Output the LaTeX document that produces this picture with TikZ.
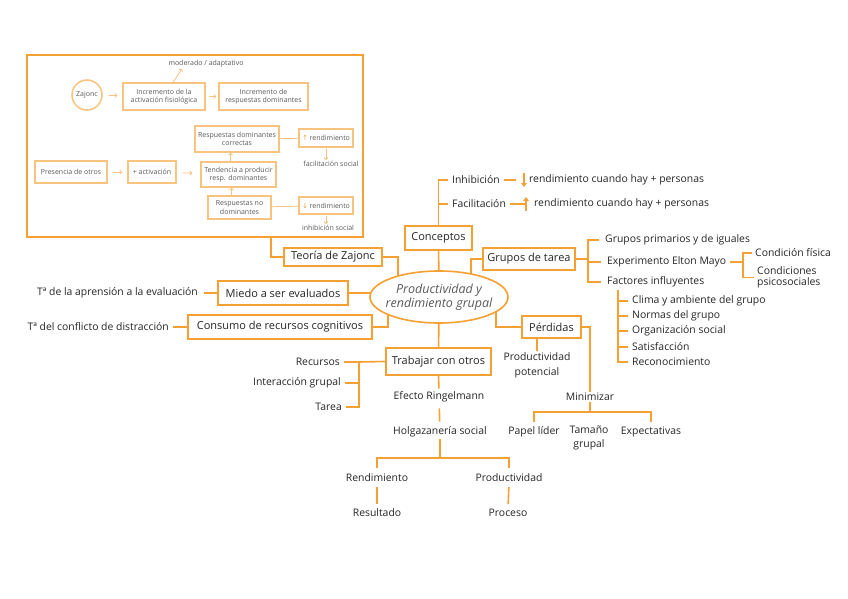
\documentclass[tikz,border=0pt]{standalone}
\usepackage{fontspec}
\setmainfont{Open Sans}
\newfontfamily\simbolos{DejaVu Sans}
\usetikzlibrary{arrows.meta,shapes.geometric,backgrounds,calc}

\definecolor{naranja}{HTML}{F5A033}
\definecolor{naranjaclaro}{HTML}{F8C37E}
\definecolor{tinta}{HTML}{262626}
\definecolor{tintaclara}{HTML}{5A5A5A}

\tikzset{
  caja/.style={draw=naranja, line width=1.6pt, fill=white, inner sep=0pt, text=tinta, font=\fontsize{11}{12}\selectfont},
  hoja/.style={inner sep=1pt, text=tinta, font=\fontsize{10.4}{12}\selectfont, align=left},
  linea/.style={draw=naranja, line width=1.6pt},
  cajita/.style={draw=naranjaclaro, line width=1.2pt, fill=white, inner sep=0pt, align=center, text=tintaclara, font=\fontsize{7}{8.5}\selectfont},
  notita/.style={inner sep=1pt, text=tintaclara, font=\fontsize{7}{8.5}\selectfont},
  lineita/.style={draw=naranjaclaro, line width=0.8pt},
  flechita/.style={lineita, -{Straight Barb[length=2pt,width=4pt]}},
}

\begin{document}
\begin{tikzpicture}[x=1pt, y=-1pt]
    \useasboundingbox (0,0) rectangle (848,599);

    % recuadro de la teoria de Zajonc
    \node[draw=naranja, line width=1.6pt, minimum width=336pt, minimum height=182pt, inner sep=0pt] (marco) at (195,146) {};
    \node[cajita, circle, line width=1.5pt, minimum size=30pt] (zajonc) at (87,95) {Zajonc};
    \node[cajita, minimum width=82pt, minimum height=27pt] (incr1) at (164,96.5) {Incremento de la\\activación fisiológica};
    \node[cajita, minimum width=89pt, minimum height=27pt] (incr2) at (263.5,96.5) {Incremento de\\respuestas dominantes};
    \node[notita] (moderado) at (206,64) {moderado / adaptativo};
    \node[cajita, minimum width=84pt, minimum height=26pt] (correctas) at (237,139) {Respuestas dominantes\\correctas};
    \node[cajita, minimum width=54pt, minimum height=18pt] (rendUp) at (326,138) {\textcolor{naranja}{\simbolos ↑} rendimiento};
    \node[notita] (facSocial) at (331,164) {facilitación social};
    \node[cajita, minimum width=72pt, minimum height=22pt] (presencia) at (71,172) {Presencia de otros};
    \node[cajita, minimum width=48pt, minimum height=22pt] (activacion) at (152,172) {+ activación};
    \node[cajita, minimum width=75pt, minimum height=25pt] (tendencia) at (238.5,174.5) {Tendencia a producir\\resp. dominantes};
    \node[cajita, minimum width=63pt, minimum height=23pt] (noDom) at (239.5,207.5) {Respuestas no\\dominantes};
    \node[cajita, minimum width=54pt, minimum height=17pt] (rendDown) at (326,205.5) {\textcolor{naranja}{\simbolos ↓} rendimiento};
    \node[notita] (inhSocial) at (328,228) {inhibición social};

    \draw[flechita, shorten <=6pt, shorten >=5pt] (zajonc) -- (incr1);
    \draw[flechita] ([xshift=9pt]incr1.north) -- ([xshift=-24pt]moderado.south);
    \draw[flechita, shorten <=3pt, shorten >=2pt] (incr1) -- (incr2);
    \draw[flechita, shorten <=5pt, shorten >=5pt] (presencia) -- (activacion);
    \draw[flechita, shorten <=6pt, shorten >=8pt] (activacion) -- (tendencia);
    \draw[flechita] ([xshift=-8pt]tendencia.north) -- ([xshift=-8pt]tendencia.north |- correctas.south);
    \draw[flechita] ([xshift=-8pt]noDom.north) -- ([xshift=-8pt]noDom.north |- tendencia.south);
    \draw[lineita] (correctas) -- (rendUp);
    \draw[lineita] (noDom) -- (rendDown);
    \draw[flechita, shorten <=1pt] (rendUp.south) -- (rendUp.south |- facSocial.north);
    \draw[flechita, shorten <=1pt] (rendDown.south) -- (rendDown.south |- inhSocial.north);

    % nodo central
    \node[ellipse, draw=naranja, line width=1.6pt, fill=white, minimum width=138pt, minimum height=52pt,
          inner xsep=-16pt, inner ysep=-5pt,
          align=center, text=tintaclara, font=\fontsize{12.5}{14}\selectfont\itshape] (centro) at (439,297) {Productividad y\\rendimiento grupal};

    % ramas principales
    \node[caja, minimum width=98pt, minimum height=18pt] (teoria) at (333,257) {Teoría de Zajonc};
    \node[caja, minimum width=67pt, minimum height=24pt] (conceptos) at (438.5,238) {Conceptos};
    \node[caja, minimum width=92pt, minimum height=22pt] (grupos) at (529,259) {Grupos de tarea};
    \node[caja, minimum width=130pt, minimum height=24pt] (miedo) at (283,293) {Miedo a ser evaluados};
    \node[caja, minimum width=184pt, minimum height=24pt] (consumo) at (280,327) {Consumo de recursos cognitivos};
    \node[caja, minimum width=59pt, minimum height=22pt] (perdidas) at (551.5,327) {Pérdidas};
    \node[caja, minimum width=105pt, minimum height=27pt] (trabajar) at (438.5,361.5) {Trabajar con otros};

    % conceptos
    \node[hoja, anchor=west] (inhibicion) at (451,180) {Inhibición};
    \node[hoja, anchor=west] (facilitacion) at (451,204) {Facilitación};
    \node[hoja, anchor=west] (rendInh) at (528,180) {rendimiento cuando hay + personas};
    \node[hoja, anchor=west] (rendFac) at (533,204) {rendimiento cuando hay + personas};

    % grupos de tarea
    \node[hoja, anchor=west] (primarios) at (604,240) {Grupos primarios y de iguales};
    \node[hoja, anchor=west] (elton) at (606,262) {Experimento Elton Mayo};
    \node[hoja, anchor=west] (factores) at (606,282) {Factores influyentes};
    \node[hoja, anchor=west] (fisica) at (754,253) {Condición física};
    \node[hoja, anchor=west, font=\fontsize{10.4}{10.5}\selectfont] (psico) at (756,277.5) {Condiciones\\psicosociales};
    \node[hoja, anchor=west] (clima) at (631,301) {Clima y ambiente del grupo};
    \node[hoja, anchor=west] (normas) at (631,316) {Normas del grupo};
    \node[hoja, anchor=west] (organizacion) at (631,331) {Organización social};
    \node[hoja, anchor=west] (satisfaccion) at (631,347) {Satisfacción};
    \node[hoja, anchor=west] (reconocimiento) at (631,362) {Reconocimiento};

    % lado izquierdo
    \node[hoja, anchor=east] (aprension) at (199,293) {Tª de la aprensión a la evaluación};
    \node[hoja, anchor=east] (conflicto) at (170,327) {Tª del conflicto de distracción};

    % trabajar con otros
    \node[hoja, anchor=east] (recursos) at (341,362) {Recursos};
    \node[hoja, anchor=east] (interaccion) at (342,383) {Interacción grupal};
    \node[hoja, anchor=east] (tarea) at (343,407) {Tarea};
    \node[hoja] (ringelmann) at (439,397) {Efecto Ringelmann};
    \node[hoja] (holgazaneria) at (440,432) {Holgazanería social};
    \node[hoja] (rendimiento) at (377,478) {Rendimiento};
    \node[hoja] (productividad) at (509,478) {Productividad};
    \node[hoja] (resultado) at (377,513) {Resultado};
    \node[hoja] (proceso) at (508,513) {Proceso};

    % perdidas
    \node[hoja, align=center, font=\fontsize{10.4}{15}\selectfont] (potencial) at (537,365) {Productividad\\potencial};
    \node[hoja] (minimizar) at (590,397) {Minimizar};
    \node[hoja] (lider) at (534,432) {Papel líder};
    \node[hoja, align=center, anchor=north, font=\fontsize{10.4}{14}\selectfont] (tamano) at (589,425) {Tamaño\\grupal};
    \node[hoja] (expectativas) at (651,432) {Expectativas};

    \coordinate (llaveG) at (588,259);
    \coordinate (llaveE) at (743,262);
    \coordinate (llaveF) at (618,290);
    \coordinate (llaveT) at (359,362);
    \coordinate (llaveH) at (440,458);
    \coordinate (llaveM) at (590,412);

    % conectores hacia el nodo central (detras de las cajas)
    \begin{pgfonlayer}{background}
        \fill[white] (0,0) rectangle (848,599);
        \draw[linea] ($(marco.south west)+(245,0)$) |- (teoria.west);
        \draw[linea] (teoria.east) -| ($(centro)+(-41,0)$);
        \draw[linea] (conceptos) -- (centro);
        \draw[linea] (grupos.west) -| ($(centro)+(32,0)$);
        \draw[linea] (miedo) -- (miedo -| centro);
        \draw[linea] (consumo.east) -| ($(centro)+(-51,0)$);
        \draw[linea] (perdidas.west) -| ($(centro)+(57,0)$);
        \draw[linea] (centro) -- (trabajar);
    \end{pgfonlayer}

    \foreach \n in {inhibicion, facilitacion}
        \draw[linea] ([xshift=-3pt]\n.west) -| (conceptos.north);
    \draw[linea] ([xshift=3pt]inhibicion.east) -- ([xshift=15pt]inhibicion.east);
    \draw[linea] ([xshift=3pt]facilitacion.east) -- ([xshift=19pt]facilitacion.east);
    \draw[naranja, line width=1.6pt, -{Triangle[length=4pt,width=5.5pt]}] ([xshift=-4pt, yshift=7pt]rendInh.west) -- ([xshift=-4pt, yshift=-7pt]rendInh.west);
    \draw[naranja, line width=1.6pt, -{Triangle[length=4pt,width=5.5pt]}] ([xshift=-7pt, yshift=-7pt]rendFac.west) -- ([xshift=-7pt, yshift=7pt]rendFac.west);

    \draw[linea] (grupos.east) -- (llaveG);
    \foreach \n in {primarios, elton, factores}
        \draw[linea] ([xshift=-5pt]\n.west) -| (llaveG);
    \draw[linea] ([xshift=3pt]elton.east) -- (llaveE);
    \foreach \n in {fisica, psico}
        \draw[linea] ([xshift=-2pt]\n.west) -| (llaveE);
    \foreach \n in {clima, normas, organizacion, satisfaccion, reconocimiento}
        \draw[linea] ([xshift=-3pt]\n.west) -| (llaveF);

    \draw[linea] ([xshift=5pt]aprension.east) -- (miedo.west);
    \draw[linea] ([xshift=3pt]conflicto.east) -- (consumo.west);

    \draw[linea] (trabajar.west) -- (llaveT);
    \foreach \n in {recursos, interaccion, tarea}
        \draw[linea] ([xshift=3pt]\n.east) -| (llaveT);
    \draw[linea, shorten >=2pt] (trabajar.south) -- (ringelmann.north);
    \draw[linea, shorten <=5pt, shorten >=4pt] (ringelmann) -- (holgazaneria);
    \draw[linea, shorten <=1pt] (holgazaneria.south) -- (llaveH);
    \foreach \n in {rendimiento, productividad}
        \draw[linea, shorten <=5pt] (\n.north) |- (llaveH);
    \draw[linea, shorten <=4pt, shorten >=4pt] (rendimiento.south) -- (resultado.north);
    \draw[linea, shorten <=4pt, shorten >=4pt] (productividad.south) -- (proceso.north);

    \draw[linea] (perdidas.east) -| (minimizar.north);
    \draw[linea] (potencial.north) -- (potencial.north |- perdidas.south);
    \draw[linea] (minimizar.south) -- (llaveM);
    \foreach \n in {lider, expectativas}
        \draw[linea, shorten <=4pt] (\n.north) |- (llaveM);
\end{tikzpicture}
\end{document}
